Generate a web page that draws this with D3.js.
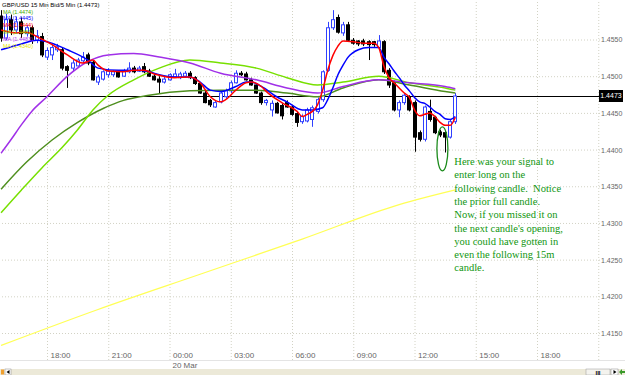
<!DOCTYPE html>
<html>
<head>
<meta charset="utf-8">
<script src="https://cdn.jsdelivr.net/npm/d3@7"></script>
<style>
body { margin: 0; background: #fff; }
svg { display: block; font-family: "Liberation Sans", Arial, sans-serif; }
</style>
</head>
<body>
<svg width="625" height="375"></svg>
<script>
// 15 minute GBP/USD candles, first one at 19 Mar 15:45
var startTime = new Date(2009, 2, 19, 15, 45);
// [open, high, low, close]
var candles = [
  [1.4582,1.4590,1.4547,1.4552],[1.4552,1.4585,1.4549,1.4577],[1.4577,1.4584,1.4556,1.4563],
  [1.4563,1.4581,1.4559,1.4574],[1.4574,1.4580,1.4552,1.4558],[1.4558,1.4570,1.4554,1.4566],
  [1.4566,1.4569,1.4544,1.4549],[1.4549,1.4563,1.4545,1.4555],[1.4554,1.4559,1.4526,1.4529],
  [1.4526,1.4539,1.4522,1.4535],[1.4529,1.4543,1.4522,1.4539],[1.4536,1.4544,1.4533,1.4540],
  [1.4536,1.4539,1.4508,1.4511],[1.4513,1.4515,1.4484,1.4508],[1.4511,1.4522,1.4506,1.4518],
  [1.4514,1.4525,1.4511,1.4522],[1.4521,1.4533,1.4518,1.4526],[1.4529,1.4532,1.4515,1.4518],
  [1.4519,1.4522,1.4494,1.4495],[1.4492,1.4502,1.4488,1.4499],[1.4496,1.4508,1.4494,1.4506],
  [1.4502,1.4511,1.4498,1.4507],[1.4502,1.4508,1.4499,1.4506],[1.4506,1.4508,1.4498,1.4499],
  [1.4500,1.4510,1.4499,1.4507],[1.4506,1.4519,1.4504,1.4511],[1.4511,1.4514,1.4504,1.4506],
  [1.4507,1.4514,1.4506,1.4511],[1.4513,1.4518,1.4504,1.4506],[1.4507,1.4510,1.4499,1.4500],
  [1.4500,1.4503,1.4494,1.4495],[1.4496,1.4500,1.4477,1.4492],[1.4492,1.4499,1.4490,1.4496],
  [1.4495,1.4504,1.4494,1.4502],[1.4499,1.4510,1.4498,1.4503],[1.4498,1.4506,1.4496,1.4503],
  [1.4500,1.4507,1.4498,1.4504],[1.4504,1.4507,1.4496,1.4498],[1.4498,1.4500,1.4488,1.4490],
  [1.4490,1.4492,1.4476,1.4477],[1.4477,1.4480,1.4463,1.4464],[1.4467,1.4469,1.4458,1.4461],
  [1.4458,1.4467,1.4457,1.4464],[1.4465,1.4481,1.4463,1.4477],[1.4472,1.4483,1.4469,1.4480],
  [1.4480,1.4494,1.4477,1.4491],[1.4491,1.4508,1.4490,1.4504],[1.4504,1.4507,1.4500,1.4502],
  [1.4503,1.4506,1.4494,1.4495],[1.4495,1.4498,1.4487,1.4488],[1.4488,1.4490,1.4476,1.4477],
  [1.4477,1.4479,1.4461,1.4464],[1.4464,1.4469,1.4460,1.4467],[1.4454,1.4467,1.4445,1.4463],
  [1.4463,1.4465,1.4449,1.4450],[1.4460,1.4463,1.4441,1.4446],[1.4464,1.4467,1.4457,1.4458],
  [1.4458,1.4460,1.4446,1.4448],[1.4449,1.4452,1.4431,1.4437],[1.4438,1.4448,1.4435,1.4445],
  [1.4439,1.4457,1.4437,1.4454],[1.4441,1.4460,1.4431,1.4457],[1.4452,1.4471,1.4449,1.4468],
  [1.4468,1.4508,1.4465,1.4506],[1.4508,1.4574,1.4506,1.4566],[1.4566,1.4590,1.4563,1.4577],
  [1.4580,1.4584,1.4558,1.4560],[1.4559,1.4574,1.4555,1.4570],[1.4570,1.4574,1.4547,1.4549],
  [1.4549,1.4552,1.4543,1.4545],[1.4548,1.4549,1.4541,1.4544],[1.4548,1.4551,1.4541,1.4544],
  [1.4547,1.4549,1.4522,1.4543],[1.4547,1.4548,1.4540,1.4543],[1.4539,1.4556,1.4536,1.4548],
  [1.4547,1.4549,1.4503,1.4506],[1.4508,1.4511,1.4484,1.4488],[1.4491,1.4494,1.4452,1.4454],
  [1.4454,1.4467,1.4444,1.4464],[1.4464,1.4477,1.4461,1.4474],[1.4472,1.4474,1.4452,1.4454],
  [1.4464,1.4467,1.4397,1.4417],[1.4423,1.4426,1.4411,1.4414],[1.4414,1.4460,1.4411,1.4458],
  [1.4452,1.4468,1.4438,1.4441],[1.4444,1.4446,1.4421,1.4423],[1.4424,1.4427,1.4417,1.4420],
  [1.4423,1.4426,1.4396,1.4417],[1.4417,1.4441,1.4415,1.4438],[1.4438,1.4477,1.4435,1.4473]
];

// moving averages: [candle index, price]
var maRed = [[0,1.4563],[3,1.4559],[5,1.4560],[7,1.4554],[10,1.4543],[13,1.4529],[16,1.4518],[18,1.4522],
  [19,1.4515],[21,1.4507],[24,1.4506],[26,1.4508],[28,1.4508],[30,1.4503],[34,1.4498],[37,1.4499],
  [39,1.4491],[41,1.4472],[43,1.4465],[44,1.4468],[46,1.4481],[48,1.4491],[49,1.4492],[51,1.4486],
  [52,1.4479],[55,1.4464],[58,1.4452],[59,1.4445],[60,1.4448],[61,1.4452],[62,1.4461],[63,1.4481],
  [64,1.4508],[65,1.4528],[66,1.4541],[67,1.4548],[69,1.4547],[71,1.4545],[73,1.4545],[74,1.4539],
  [75,1.4514],[76,1.4498],[77,1.4491],[78,1.4484],[79,1.4477],[80,1.4471],[81,1.4454],[82,1.4446],
  [83,1.4448],[84,1.4450],[85,1.4445],[86,1.4437],[87,1.4433],[88,1.4433],[89,1.4444]];
var maBlue = [[0,1.4536],[4,1.4544],[7,1.4549],[9,1.4547],[13,1.4536],[17,1.4522],[19,1.4511],[23,1.4508],
  [26,1.4508],[29,1.4506],[31,1.4502],[34,1.4499],[37,1.4499],[39,1.4492],[41,1.4481],[43,1.4479],
  [46,1.4486],[48,1.4492],[49,1.4492],[51,1.4486],[54,1.4472],[56,1.4465],[59,1.4454],[61,1.4454],
  [63,1.4457],[64,1.4468],[65,1.4484],[66,1.4502],[67,1.4515],[68,1.4526],[70,1.4536],[72,1.4539],
  [74,1.4539],[75,1.4526],[76,1.4517],[77,1.4507],[78,1.4498],[79,1.4488],[80,1.4480],[81,1.4471],
  [82,1.4465],[83,1.4463],[84,1.4458],[85,1.4452],[86,1.4448],[87,1.4442],[88,1.4441],[89,1.4445]];
var maPurple = [[0,1.4395],[2,1.4414],[4,1.4434],[6,1.4452],[9,1.4472],[13,1.4500],[17,1.4520],[21,1.4529],
  [26,1.4531],[31,1.4526],[37,1.4518],[43,1.4504],[50,1.4495],[56,1.4484],[62,1.4477],[67,1.4486],
  [74,1.4495],[80,1.4491],[87,1.4486],[89,1.4483]];
var maGreen = [[0,1.4314],[4,1.4345],[8,1.4375],[12,1.4403],[15,1.4427],[18,1.4454],[21,1.4474],[26,1.4495],
  [31,1.4511],[37,1.4522],[43,1.4518],[50,1.4511],[56,1.4498],[62,1.4488],[67,1.4492],[74,1.4500],
  [80,1.4491],[87,1.4484],[89,1.4481]];
var maOlive = [[0,1.4346],[5,1.4383],[10,1.4413],[15,1.4437],[20,1.4456],[24,1.4467],[29,1.4474],[37,1.4480],
  [43,1.4481],[50,1.4481],[56,1.4477],[62,1.4472],[67,1.4484],[74,1.4495],[80,1.4488],[87,1.4479],[89,1.4477]];
var maYellow = [[0,1.4133],[19,1.4182],[39,1.4230],[59,1.4278],[78,1.4325],[89,1.4345]];

var priceTicks = [1.4150, 1.4200, 1.4250, 1.4300, 1.4350, 1.4400, 1.4450, 1.4500, 1.4550];
var lastPrice = 1.4473;
var chartTitle = "GBP/USD 15 Min Bid/5 Min (1.4473)";
var legendRows = [["MA (1.4474)", "#44aa00"], ["MA (1.4445)", "#0000ff"], ["MA (1.4444)", "#ff0000"],
  ["MA (1.4481)", "#77dd00"], ["MA (1.4483)", "#aa33ee"], ["MA (1.4340)", "#e8e800"]];
var note = ["Here was your signal to", "enter long on the", "following candle.  Notice",
  "the prior full candle.", "Now, if you missed it on", "the next candle's opening,",
  "you could have gotten in", "even the following 15m", "candle."];

var svg = d3.select("svg"),
    plotRight = 600,
    plotBottom = 360;

var timeOf = function(i) { return d3.timeMinute.offset(startTime, 15 * i); };

var x = d3.scaleTime()
    .domain([new Date(2009, 2, 19, 18, 0), new Date(2009, 2, 20, 18, 0)])
    .range([47, 537]);
var y = d3.scaleLinear().domain([1.4150, 1.4550]).range([333, 39.5]);

svg.append("rect").attr("width", 625).attr("height", 375).attr("fill", "#fff");

svg.append("defs").append("clipPath").attr("id", "clip")
  .append("rect").attr("width", plotRight).attr("height", plotBottom);

// price axis + horizontal grid
var yAxis = d3.axisRight(y).tickValues(priceTicks).tickFormat(d3.format(".4f"))
    .tickSize(-plotRight).tickPadding(1);
var gy = svg.append("g").attr("transform", "translate(" + plotRight + ",0)").call(yAxis);
gy.select(".domain").remove();
gy.selectAll("line").attr("stroke", "#d2d2c4").attr("stroke-dasharray", "1,2");
gy.selectAll("text").attr("fill", "#666").attr("font-size", 7).attr("dy", "0.35em");

// time axis + vertical grid
var timeTicks = d3.timeHour.every(3).range(new Date(2009, 2, 19, 18, 0), new Date(2009, 2, 20, 21, 1));
var xAxis = d3.axisBottom(x).tickValues(timeTicks).tickFormat(d3.timeFormat("%H:%M"))
    .tickSize(-plotBottom);
var gx = svg.append("g").attr("transform", "translate(0," + plotBottom + ")").call(xAxis);
gx.select(".domain").remove();
gx.selectAll("line").attr("stroke", "#d2d2c4").attr("stroke-dasharray", "1,2");
gx.selectAll("text").attr("fill", "#666").attr("font-size", 8)
    .attr("text-anchor", "start").attr("x", 3).attr("y", -2).attr("dy", 0);
gx.selectAll(".tick").filter(function(d) { return x(d) > 560; }).select("text").remove();

svg.append("line").attr("x1", 0).attr("x2", 625).attr("y1", plotBottom + 0.5).attr("y2", plotBottom + 0.5)
    .attr("stroke", "#e4e4e4");
svg.append("text").attr("x", x(new Date(2009, 2, 20, 0, 0)) + 3).attr("y", 368)
    .attr("font-size", 8).attr("fill", "#666").text("20 Mar");

var plot = svg.append("g").attr("clip-path", "url(#clip)");

// last price line
plot.append("line").attr("x1", 0).attr("x2", plotRight)
    .attr("y1", Math.round(y(lastPrice)) + 0.5).attr("y2", Math.round(y(lastPrice)) + 0.5)
    .attr("stroke", "#000");

// candles
var bw = 3;
var c = plot.selectAll(".candle").data(candles).enter().append("g").attr("class", "candle");
c.append("line")
    .attr("x1", function(d, i) { return Math.round(x(timeOf(i))) + 0.5; })
    .attr("x2", function(d, i) { return Math.round(x(timeOf(i))) + 0.5; })
    .attr("y1", function(d) { return y(d[1]); })
    .attr("y2", function(d) { return y(d[2]); })
    .attr("stroke", function(d) { return d[3] >= d[0] ? "#3040ff" : "#000"; });
c.append("rect")
    .attr("x", function(d, i) { return Math.round(x(timeOf(i))) - 1.5; })
    .attr("width", bw)
    .attr("y", function(d) { return y(Math.max(d[0], d[3])); })
    .attr("height", function(d) { return Math.max(1, Math.abs(y(d[0]) - y(d[3]))); })
    .attr("fill", function(d) { return d[3] >= d[0] ? "#fff" : "#000"; })
    .attr("stroke", function(d) { return d[3] >= d[0] ? "#3040ff" : "#000"; })
    .attr("stroke-width", 1);

// moving averages
var maLine = d3.line()
    .x(function(d) { return x(timeOf(d[0])); })
    .y(function(d) { return y(d[1]); })
    .curve(d3.curveMonotoneX);

var mas = [
  [maYellow, "#ffff55", 1.2],
  [maOlive, "#4f8f1f", 1.5],
  [maGreen, "#77e000", 1.5],
  [maPurple, "#a030e8", 1.5],
  [maBlue, "#0000ff", 1.5],
  [maRed, "#ff0000", 1.5]
];
mas.forEach(function(m) {
  plot.append("path").datum(m[0]).attr("d", maLine)
      .attr("fill", "none").attr("stroke", m[1]).attr("stroke-width", m[2]);
});

// annotation
plot.append("ellipse")
    .attr("cx", x(timeOf(86.5))).attr("cy", y(1.4401))
    .attr("rx", 5.5).attr("ry", y(1.4371) - y(1.4401))
    .attr("fill", "none").attr("stroke", "#1a8a1a").attr("stroke-width", 1.3);

svg.append("g").selectAll("text").data(note).enter().append("text")
    .attr("x", x(timeOf(89)) - 1)
    .attr("y", function(d, i) { return 165 + i * 13.3; })
    .attr("font-family", "Liberation Serif, Times New Roman, serif")
    .attr("font-size", 10.5)
    .attr("fill", "#0f960f")
    .style("white-space", "pre")
    .text(function(d) { return d; });

// legend
svg.append("text").attr("x", 2).attr("y", 7).attr("font-size", 6).attr("fill", "#000").text(chartTitle);
svg.append("g").selectAll("text").data(legendRows).enter().append("text")
    .attr("x", 3).attr("y", function(d, i) { return 13.5 + i * 6.8; })
    .attr("font-size", 5.5).attr("fill", function(d) { return d[1]; })
    .text(function(d) { return d[0]; });

// last price label
svg.append("rect").attr("x", 599).attr("y", y(lastPrice) - 6).attr("width", 24).attr("height", 12).attr("fill", "#000");
svg.append("text").attr("x", 611).attr("y", y(lastPrice)).attr("dy", "0.35em")
    .attr("text-anchor", "middle").attr("font-size", 7).attr("fill", "#fff").text(d3.format(".4f")(lastPrice));

// scrollbar strip
svg.append("rect").attr("x", 0).attr("y", 369).attr("width", 625).attr("height", 6).attr("fill", "#ece9d8");
svg.append("rect").attr("x", 5).attr("y", 369).attr("width", 6).attr("height", 6)
    .attr("fill", "#fff").attr("stroke", "#888").attr("stroke-width", 0.5);
svg.append("path").attr("d", "M9.5,370 L6.5,372 L9.5,374 Z").attr("fill", "#000");
svg.append("rect").attr("x", 1).attr("y", 369.5).attr("width", 3).attr("height", 5).attr("fill", "#f0a030");
svg.append("rect").attr("x", 586).attr("y", 369).attr("width", 24).attr("height", 6)
    .attr("fill", "#f4f3ee").attr("stroke", "#999").attr("stroke-width", 0.5);
svg.append("text").attr("x", 598).attr("y", 374.5).attr("text-anchor", "middle")
    .attr("font-size", 6).attr("font-weight", "bold").attr("fill", "#000").text("III");
svg.append("rect").attr("x", 611).attr("y", 369).attr("width", 7).attr("height", 6)
    .attr("fill", "#fff").attr("stroke", "#888").attr("stroke-width", 0.5);
svg.append("path").attr("d", "M613.5,370 L616.5,372 L613.5,374 Z").attr("fill", "#000");
svg.append("path").attr("d", "M619,372 L622,369 L622,371 L625,371 L625,373 L622,373 L622,375 Z")
    .attr("fill", "#3a9a2a");
</script>
</body>
</html>
